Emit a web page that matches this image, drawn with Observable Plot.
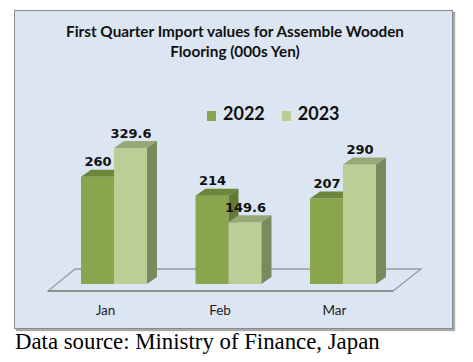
<!DOCTYPE html>
<html><head><meta charset="utf-8">
<script src="https://cdn.jsdelivr.net/npm/d3@7"></script>
<script src="https://cdn.jsdelivr.net/npm/@observablehq/plot@0.6"></script>
<style>
body{margin:0;background:#fff;}
#wrap{position:relative;width:473px;height:362px;overflow:hidden;}
#frame{position:absolute;left:14px;top:10px;width:437px;height:317px;background:#dce6f2;border:1px solid #8a8a8a;box-shadow:2px 2px 1px #a9a9a9;}
#title{position:absolute;left:14px;top:21px;width:442px;text-align:center;font:bold 15.3px Lato;line-height:20px;color:#111;}
#legend{position:absolute;left:207px;top:102px;height:22px;line-height:22px;font:bold 18px Lato;color:#111;white-space:nowrap;}
#legend .sw{display:inline-block;width:9px;height:10px;margin-right:7px;vertical-align:-1px;}
#legend .item{display:inline-block;margin-right:17px;}
#chart{position:absolute;left:0;top:0;}
#caption{position:absolute;left:15px;top:331px;font:22.8px "Liberation Serif";line-height:1;color:#000;white-space:nowrap;}
</style></head>
<body>
<div id="wrap">
  <div id="frame"></div>
  <div id="title"></div>
  <div id="legend"></div>
  <div id="chart"></div>
  <div id="caption"></div>
</div>
<script>
// ---- data ----
const titleLines = ["First Quarter Import values for Assemble Wooden", "Flooring (000s Yen)"];
const months = ["Jan", "Feb", "Mar"];
const seriesNames = ["2022", "2023"];
const values2022 = [260, 214, 207];
const values2023 = [329.6, 149.6, 290];
const caption = "Data source: Ministry of Finance, Japan";

// ---- styles ----
const palette = {
  "2022": {front: "#89a54e", top: "#6c8739", side: "#627c35"},
  "2023": {front: "#bbce96", top: "#98a977", side: "#7b8a5e"}
};
const DEPTH_X = 10, DEPTH_Y = 7;

const seriesValues = [values2022, values2023];
const rowsBySeries = seriesNames.map((s, k) =>
  months.map((m, i) => ({month: m, series: s, value: seriesValues[k][i]})));

document.getElementById("title").innerHTML = titleLines.join("<br>");
document.getElementById("caption").textContent = caption;
document.getElementById("legend").innerHTML = seriesNames.map(s =>
  `<span class="item"><span class="sw" style="background:${palette[s].front}"></span>${s}</span>`).join("");

function floorMark(index, scales) {
  const [r0, r1] = scales.x.range();
  const y0 = scales.y(0);
  const fl = r0 - 33, fr = r1 + 17, fy = y0 + 7;
  const g = d3.create("svg:g");
  g.append("polygon")
    .attr("points", [[fl, fy], [fr, fy], [fr + 28, fy - 22], [fl + 27, fy - 22]].join(" "))
    .attr("fill", "none").attr("stroke", "#9b9b9b").attr("stroke-width", 1.3);
  g.append("line").attr("x1", fl).attr("x2", fr).attr("y1", fy).attr("y2", fy)
    .attr("stroke", "#8f8f8f").attr("stroke-width", 2);
  return g.node();
}

function sidesMark(rows, k) {
  const c = palette[seriesNames[k]];
  return (index, scales) => {
    const g = d3.create("svg:g");
    const half = scales.x.bandwidth() / 2;
    for (const d of rows) {
      const x0 = scales.x(d.month) + k * half, x1 = x0 + half;
      const yt = scales.y(d.value), yb = scales.y(0);
      g.append("polygon")
        .attr("points", [[x0, yt], [x1, yt], [x1 + DEPTH_X, yt - DEPTH_Y], [x0 + DEPTH_X, yt - DEPTH_Y]].join(" "))
        .attr("fill", c.top);
      g.append("polygon")
        .attr("points", [[x1, yt], [x1 + DEPTH_X, yt - DEPTH_Y], [x1 + DEPTH_X, yb - DEPTH_Y], [x1, yb]].join(" "))
        .attr("fill", c.side);
    }
    return g.node();
  };
}

const HALF = 33;
const marks = [floorMark];
rowsBySeries.forEach((rows, k) => {
  marks.push(Plot.barY(rows, {
    x: "month", y: "value", fill: palette[seriesNames[k]].front,
    insetLeft: k ? HALF : 0, insetRight: k ? 0 : HALF
  }));
  marks.push(sidesMark(rows, k));
});
rowsBySeries.forEach((rows, k) => {
  marks.push(Plot.text(rows, {
    x: "month", y: "value", text: d => String(d.value),
    dx: k ? HALF / 2 : -HALF / 2, dy: -15, lineAnchor: "middle",
    fontFamily: "DejaVu Sans", fontWeight: "bold", fontSize: 13, fill: "#111"
  }));
});
marks.push(Plot.text(months, {
  x: d => d, frameAnchor: "bottom", dy: 26, dx: -9, lineAnchor: "middle",
  fontFamily: "Lato", fontSize: 13.5, fill: "#222"
}));

const chart = Plot.plot({
  width: 473, height: 330,
  marginTop: 119, marginBottom: 46, marginLeft: 81, marginRight: 97,
  x: {domain: months, range: [81, 376], paddingInner: 0.4236, paddingOuter: 0, round: false, axis: null},
  y: {domain: [0, 400], axis: null},
  style: {background: "transparent", overflow: "visible"},
  marks
});
document.getElementById("chart").appendChild(chart);
</script>
</body></html>
